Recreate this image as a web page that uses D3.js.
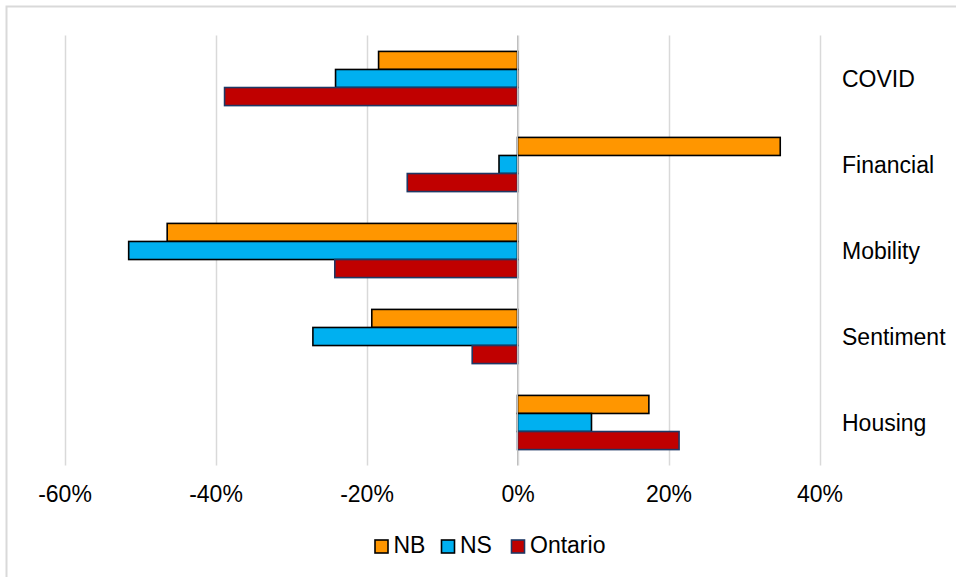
<!DOCTYPE html>
<html>
<head>
<meta charset="utf-8">
<script src="https://cdn.jsdelivr.net/npm/d3@7"></script>
<style>
  html, body { margin: 0; padding: 0; background: #fff; }
  svg { display: block; }
  text { font-family: "Liberation Sans", Arial, sans-serif; fill: #000; }
</style>
</head>
<body>
<svg id="chart" width="956" height="577"></svg>
<script>
const categories = ["COVID", "Financial", "Mobility", "Sentiment", "Housing"];
const seriesNames = ["NB", "NS", "Ontario"];
const nbValues = [-18.4, 34.8, -46.4, -19.3, 17.4];
const nsValues = [-24.1, -2.45, -51.5, -27.1, 9.8];
const ontarioValues = [-38.8, -14.6, -24.2, -6.0, 21.4];
const tickValues = [-60, -40, -20, 0, 20, 40];
const tickLabels = ["-60%", "-40%", "-20%", "0%", "20%", "40%"];

const seriesValues = [nbValues, nsValues, ontarioValues];
const fills = ["#FF9600", "#00B0F0", "#C00000"];
const strokes = ["#000000", "#000000", "#1F3864"];
const fontSize = 23;

const svg = d3.select("#chart");

// chart border
svg.append("rect")
  .attr("x", 6.5).attr("y", 6.5)
  .attr("width", 1000).attr("height", 1000)
  .attr("fill", "none").attr("stroke", "#d9d9d9").attr("stroke-width", 2);

const x = d3.scaleLinear().domain([-60, 40]).range([64.5, 819.5]);
const y = d3.scaleBand().domain(categories).range([35.5, 465.5])
  .paddingInner(0.37).paddingOuter(0.185);
const ySub = d3.scaleBand().domain(seriesNames).range([0, y.bandwidth()]);

// gridlines
svg.append("g").selectAll("line").data(tickValues).join("line")
  .attr("x1", d => Math.round(x(d)) + 0.5).attr("x2", d => Math.round(x(d)) + 0.5)
  .attr("y1", 35.5).attr("y2", 465.5)
  .attr("stroke", "#d9d9d9").attr("stroke-width", 1.5);

// bars
const groups = svg.append("g").selectAll("g").data(categories).join("g")
  .attr("transform", d => `translate(0,${y(d)})`);

groups.selectAll("rect")
  .data((c, i) => seriesNames.map((s, j) => ({ s, j, v: seriesValues[j][i] })))
  .join("rect")
  .attr("x", d => Math.min(x(0), x(d.v)))
  .attr("width", d => Math.abs(x(d.v) - x(0)))
  .attr("y", d => ySub(d.s))
  .attr("height", ySub.bandwidth())
  .attr("fill", d => fills[d.j])
  .attr("stroke", d => strokes[d.j])
  .attr("stroke-width", 1.6);

// zero axis line
svg.append("line")
  .attr("x1", x(0)).attr("x2", x(0)).attr("y1", 35.5).attr("y2", 465.5)
  .attr("stroke", "#bfbfbf").attr("stroke-width", 1);

// category labels
svg.append("g").selectAll("text").data(categories).join("text")
  .attr("x", 842)
  .attr("y", d => y(d) + y.bandwidth() / 2)
  .attr("dy", "0.35em")
  .attr("font-size", fontSize)
  .text(d => d);

// x tick labels
const xAxis = d3.axisBottom(x).tickValues(tickValues)
  .tickFormat((d, i) => tickLabels[i]).tickSize(0).tickPadding(0);
const ax = svg.append("g").attr("transform", "translate(0,486)").call(xAxis);
ax.select(".domain").remove();
ax.selectAll("text").attr("font-size", fontSize).attr("dy", "0.71em")
  .style("font-family", '"Liberation Sans", Arial, sans-serif').attr("fill", "#000");

// legend
const legendX = [375, 441.5, 511.5];
const legend = svg.append("g").selectAll("g").data(seriesNames).join("g")
  .attr("transform", (d, i) => `translate(${legendX[i]},540)`);
legend.append("rect")
  .attr("width", 13).attr("height", 13)
  .attr("fill", (d, i) => fills[i])
  .attr("stroke", (d, i) => strokes[i]).attr("stroke-width", 1.6);
legend.append("text")
  .attr("x", 18.5).attr("y", 12.5)
  .attr("font-size", fontSize)
  .text(d => d);
</script>
</body>
</html>
